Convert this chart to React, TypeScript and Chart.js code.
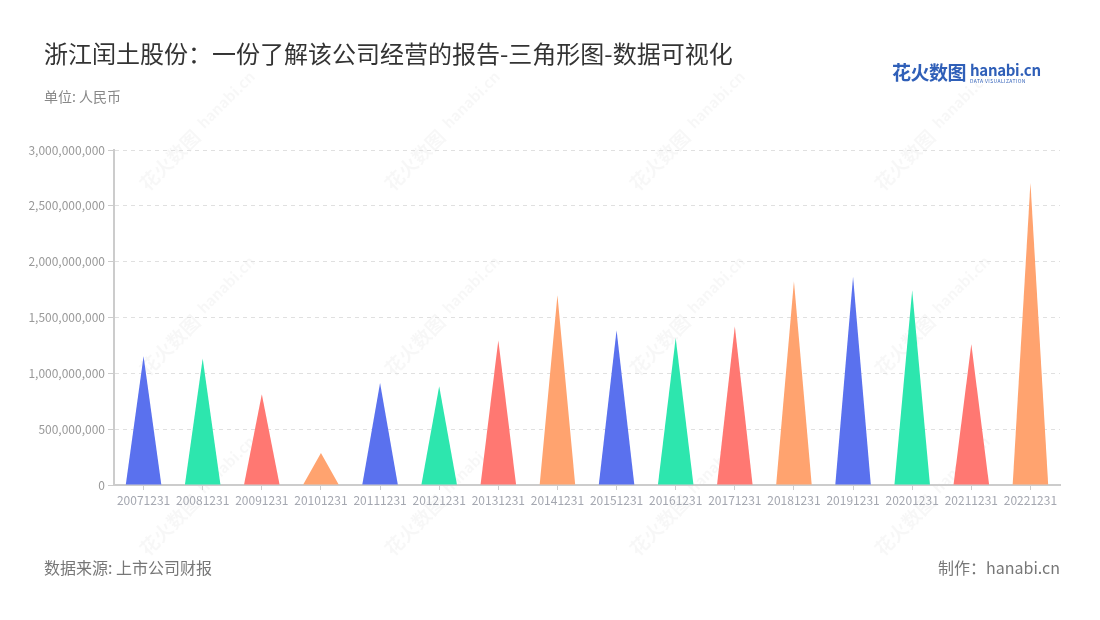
import React, { useEffect, useRef } from 'react';
import { Chart, registerables } from 'chart.js';

Chart.register(...registerables);

const categories = [
  '20071231', '20081231', '20091231', '20101231', '20111231', '20121231', '20131231', '20141231',
  '20151231', '20161231', '20171231', '20181231', '20191231', '20201231', '20211231', '20221231',
];
const values = [
  1153000000, 1133000000, 813000000, 287000000, 914000000, 884000000, 1297000000, 1700000000,
  1386000000, 1317000000, 1422000000, 1825000000, 1864000000, 1745000000, 1261000000, 2706000000,
];
const palette = ['#5a71ee', '#2de6ae', '#ff7872', '#ffa36f'];
const yMin = 0;
const yMax = 3000000000;
const yStep = 500000000;

const FONT = '"Noto Sans CJK SC", "Noto Sans", sans-serif';

const trianglePlugin = {
  id: 'triangles',
  afterDatasetsDraw(chart: any) {
    const meta = chart.getDatasetMeta(0);
    const ctx = chart.ctx;
    ctx.save();
    meta.data.forEach((el: any, i: number) => {
      const { x, y, base, width } = el.getProps(['x', 'y', 'base', 'width'], true);
      ctx.beginPath();
      ctx.moveTo(x - width / 2, base);
      ctx.lineTo(x, y);
      ctx.lineTo(x + width / 2, base);
      ctx.closePath();
      ctx.fillStyle = palette[i % palette.length];
      ctx.fill();
    });
    ctx.restore();
  },
};

const watermarkPlugin = {
  id: 'watermark',
  beforeDraw(chart: any) {
    const ctx = chart.ctx;
    ctx.save();
    ctx.fillStyle = 'rgba(0,0,0,0.03)';
    const cols = [150, 395, 640, 885];
    const rows = [180, 365, 545];
    for (const cx of cols) {
      for (const cy of rows) {
        ctx.save();
        ctx.translate(cx, cy);
        ctx.rotate(-Math.PI / 4);
        ctx.font = `bold 19px ${FONT}`;
        ctx.textBaseline = 'middle';
        ctx.fillText('花火数图', -10, 0);
        ctx.font = `bold 15px ${FONT}`;
        ctx.fillText('hanabi.cn', 74, -3);
        ctx.restore();
      }
    }
    ctx.restore();
  },
};

export default function App() {
  const canvasRef = useRef<HTMLCanvasElement | null>(null);

  useEffect(() => {
    if (!canvasRef.current) return;
    const chart = new Chart(canvasRef.current, {
      type: 'bar',
      data: {
        labels: categories,
        datasets: [
          {
            data: values,
            backgroundColor: 'rgba(0,0,0,0)',
            borderWidth: 0,
            barPercentage: 0.6,
            categoryPercentage: 1,
          },
        ],
      },
      plugins: [watermarkPlugin, trianglePlugin],
      options: {
        animation: false,
        responsive: false,
        maintainAspectRatio: false,
        devicePixelRatio: 1,
        layout: { padding: { top: 150, right: 40, bottom: 105, left: 0 } },
        plugins: {
          legend: { display: false },
          tooltip: { enabled: false },
          title: { display: false },
        },
        scales: {
          x: {
            offset: true,
            grid: {
              display: true,
              drawOnChartArea: false,
              drawTicks: true,
              tickLength: 5,
              offset: false,
              tickColor: '#cccccc',
            },
            border: { display: true, color: '#cccccc', width: 2 },
            ticks: {
              color: '#a4a7b0',
              font: { size: 12, family: FONT },
              maxRotation: 0,
              minRotation: 0,
              autoSkip: false,
              padding: 3,
            },
            afterFit(scale: any) {
              scale.height = 30;
            },
          },
          y: {
            min: yMin,
            max: yMax,
            grid: {
              color: '#e0e0e0',
              tickColor: '#cccccc',
              tickLength: 6,
              tickBorderDash: [],
            },
            border: { display: true, color: '#cccccc', width: 2, dash: [4, 4] },
            ticks: {
              stepSize: yStep,
              color: '#999999',
              font: { size: 12, family: FONT },
              padding: 3,
              callback: (v: any) => Number(v).toLocaleString('en-US'),
            },
            afterFit(scale: any) {
              scale.width = 114;
            },
          },
        },
      },
    });
    return () => chart.destroy();
  }, []);

  return (
    <div
      style={{
        position: 'absolute',
        left: 0,
        top: 0,
        width: 1100,
        height: 620,
        background: '#ffffff',
        fontFamily: FONT,
        overflow: 'hidden',
      }}
    >
      <canvas ref={canvasRef} width={1100} height={620} style={{ position: 'absolute', left: 0, top: 0 }} />
      <div style={{ position: 'absolute', left: 44, top: 37, fontSize: 24, color: '#333333', whiteSpace: 'nowrap', lineHeight: '32px' }}>
        浙江闰土股份：一份了解该公司经营的报告-三角形图-数据可视化
      </div>
      <div style={{ position: 'absolute', left: 44, top: 86, fontSize: 14, color: '#888888', whiteSpace: 'nowrap', lineHeight: '20px' }}>
        单位: 人民币
      </div>
      <div style={{ position: 'absolute', left: 892, top: 60, whiteSpace: 'nowrap', display: 'flex', alignItems: 'center' }}>
        <span style={{ fontSize: 19, fontWeight: 700, color: '#2f5fb8', letterSpacing: -0.5, lineHeight: '24px' }}>花火数图</span>
        <span style={{ marginLeft: 4, display: 'flex', flexDirection: 'column', lineHeight: 1 }}>
          <span style={{ fontSize: 15, fontWeight: 700, color: '#2f5fb8', letterSpacing: -0.3 }}>hanabi.cn</span>
          <span style={{ fontSize: 5, color: '#2f5fb8', letterSpacing: 0.4, marginTop: 1 }}>DATA VISUALIZATION</span>
        </span>
      </div>
      <div style={{ position: 'absolute', left: 44, top: 556, fontSize: 16, color: '#777777', whiteSpace: 'nowrap', lineHeight: '22px' }}>
        数据来源: 上市公司财报
      </div>
      <div style={{ position: 'absolute', right: 40, top: 556, fontSize: 16, color: '#777777', whiteSpace: 'nowrap', lineHeight: '22px' }}>
        制作：hanabi.cn
      </div>
    </div>
  );
}
